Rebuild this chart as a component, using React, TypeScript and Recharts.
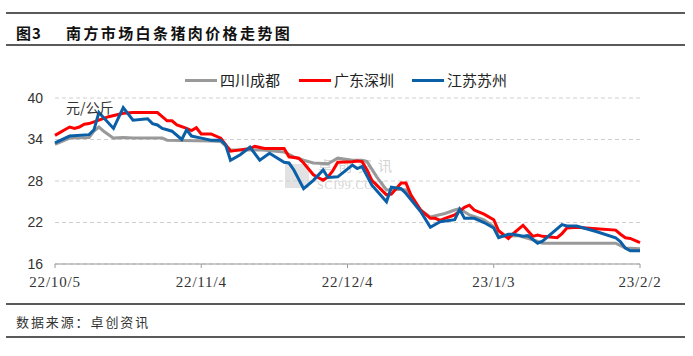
import { LineChart, Line, XAxis, YAxis, CartesianGrid } from 'recharts';

// x axis: days since 2022/10/5
const tickDays = [0, 30, 60, 90, 120];
const dateLabels = ['22/10/5', '22/11/4', '22/12/4', '23/1/3', '23/2/2'];
const priceTicks = [16, 22, 28, 34, 40];

const seriesNames = ['四川成都', '广东深圳', '江苏苏州'];
const seriesColors = ['#999999', '#ff0000', '#0b5fa7'];

// 四川成都
const chengduDays = [0, 3, 7, 8, 9, 10, 12, 14, 16, 22, 23, 32, 34, 36, 42, 47, 49, 51, 53, 56, 58, 61, 63, 64, 66, 68, 70, 72, 75, 77, 80, 82, 83, 85, 88, 90, 91, 95, 98, 100, 115, 117, 120];
const chengduPrices = [33.3, 34.2, 34.3, 35.2, 35.8, 35.2, 34.2, 34.3, 34.2, 34.2, 33.9, 33.8, 33.7, 32.5, 32.5, 32.2, 31.5, 31.0, 30.6, 30.5, 31.3, 31.0, 31.0, 30.8, 28.6, 26.7, 26.8, 26.7, 23.8, 22.8, 23.3, 23.8, 24.0, 23.1, 22.4, 21.4, 20.0, 20.1, 19.5, 19.0, 19.0, 18.3, 18.2];

// 广东深圳
const shenzhenDays = [0, 2, 3, 4, 5, 6, 7, 9, 11, 14, 16, 21, 22, 23, 24, 25, 27, 28, 29, 30, 32, 34, 36, 38, 40, 41, 43, 47, 48, 50, 51, 53, 55, 56, 57, 58, 61, 62, 63, 64, 65, 68, 69, 71, 72, 73, 75, 77, 78, 79, 80, 82, 84, 85, 86, 88, 90, 91, 93, 94, 96, 98, 99, 100, 103, 104, 105, 107, 111, 115, 116, 117, 118, 120];
const shenzhenPrices = [34.6, 35.4, 35.8, 35.6, 35.8, 36.2, 36.3, 36.8, 37.3, 37.8, 37.9, 37.9, 37.3, 36.7, 36.7, 36.1, 35.6, 35.3, 35.7, 34.8, 34.8, 34.2, 32.3, 32.5, 32.7, 33.0, 32.7, 32.7, 31.5, 31.3, 30.6, 28.9, 28.1, 28.6, 29.5, 30.7, 30.8, 30.9, 30.8, 29.6, 28.1, 26.0, 26.1, 27.7, 27.7, 26.0, 23.8, 22.6, 22.6, 22.3, 22.6, 23.1, 24.2, 24.5, 23.8, 23.2, 22.4, 20.8, 19.7, 20.4, 21.6, 20.0, 20.2, 20.0, 19.8, 20.4, 21.2, 21.3, 21.1, 20.9, 20.3, 19.8, 19.7, 19.1];

// 江苏苏州
const suzhouDays = [0, 3, 7, 8, 9, 12, 14, 16, 19, 20, 21, 22, 23, 24, 26, 27, 28, 30, 32, 34, 35, 36, 38, 40, 42, 44, 47, 48, 49, 51, 53, 55, 56, 58, 61, 62, 63, 65, 68, 69, 71, 72, 75, 77, 79, 82, 83, 84, 86, 88, 90, 91, 93, 94, 96, 97, 99, 100, 104, 105, 107, 111, 115, 116, 117, 118, 120];
const suzhouPrices = [33.5, 34.5, 34.7, 35.4, 37.9, 35.6, 38.6, 36.8, 37.0, 36.3, 36.1, 35.6, 35.4, 35.2, 34.0, 35.4, 34.5, 34.2, 33.9, 33.9, 33.2, 31.0, 31.8, 32.9, 31.0, 32.0, 30.7, 30.6, 29.6, 26.9, 28.1, 29.6, 28.5, 28.6, 30.3, 29.8, 30.1, 27.4, 25.0, 27.1, 26.9, 26.2, 23.6, 21.3, 22.1, 22.4, 23.9, 22.6, 22.6, 22.0, 21.2, 19.8, 20.3, 20.3, 20.0, 20.1, 19.0, 19.3, 21.7, 21.5, 21.5, 20.7, 19.8, 19.2, 18.3, 17.9, 17.9];

const toPoints = (days: number[], prices: number[]) =>
  days.map((day, i) => ({ day, price: prices[i] }));

const series = [
  toPoints(chengduDays, chengduPrices),
  toPoints(shenzhenDays, shenzhenPrices),
  toPoints(suzhouDays, suzhouPrices),
];

const cjk = '"Noto Sans CJK SC", "Noto Sans", sans-serif';

const rule = (top: number) => (
  <div style={{ position: 'absolute', left: 6, width: 679, top, height: 2, background: '#5a5a5a' }} />
);

const legendLeft = [185, 299, 412];

const App = () => {
  return (
    <div style={{ position: 'relative', width: 693, height: 356, background: '#fff', overflow: 'hidden' }}>
      <style>{'body{margin:0}'}</style>

      {rule(12)}
      <div style={{ position: 'absolute', left: 16, top: 22, lineHeight: '22px', fontFamily: cjk, fontSize: 15, fontWeight: 'bold', color: '#111', letterSpacing: 1 }}>
        图3
      </div>
      <div style={{ position: 'absolute', left: 66, top: 22, lineHeight: '22px', fontFamily: cjk, fontSize: 15, fontWeight: 'bold', color: '#111', letterSpacing: 2.4 }}>
        南方市场白条猪肉价格走势图
      </div>
      {rule(44)}

      {/* watermark */}
      <div style={{ position: 'absolute', left: 285, top: 164, width: 24, height: 24, background: '#e2e2e2' }} />
      <div style={{ position: 'absolute', left: 318, top: 157, lineHeight: '16px', fontFamily: cjk, fontSize: 14, color: '#d4d4d4', letterSpacing: 6 }}>
        卓创资讯
      </div>
      <div style={{ position: 'absolute', left: 317, top: 179, lineHeight: '13px', fontFamily: '"Liberation Serif", serif', fontSize: 12, color: '#d4d4d4', letterSpacing: 0.8 }}>
        SCI99.COM
      </div>

      <LineChart
        width={693}
        height={356}
        margin={{ top: 98, right: 53, bottom: 62, left: 10 }}
        style={{ position: 'absolute', left: 0, top: 0 }}
      >
        <CartesianGrid vertical={false} stroke="#d0d0d0" strokeDasharray="4 3" />
        <XAxis
          dataKey="day"
          type="number"
          domain={[0, 120]}
          ticks={tickDays}
          interval={0}
          tickFormatter={(d: number) => dateLabels[tickDays.indexOf(d)]}
          axisLine={{ stroke: '#999' }}
          tickLine={{ stroke: '#999' }}
          tickSize={4}
          tickMargin={8}
          height={30}
          tick={{ fill: '#333', fontSize: 15, fontFamily: '"Liberation Serif", serif', letterSpacing: 0.8 }}
        />
        <YAxis
          type="number"
          domain={[16, 40]}
          ticks={priceTicks}
          interval={0}
          axisLine={false}
          tickLine={false}
          tickMargin={6}
          width={45}
          tick={{ fill: '#333', fontSize: 14, fontFamily: '"Liberation Sans", Arial, sans-serif' }}
        />
        {series.map((points, i) => (
          <Line
            key={seriesNames[i]}
            data={points}
            dataKey="price"
            name={seriesNames[i]}
            type="linear"
            stroke={seriesColors[i]}
            strokeWidth={3}
            dot={false}
            activeDot={false}
            isAnimationActive={false}
          />
        ))}
      </LineChart>

      {/* legend */}
      {seriesNames.map((name, i) => (
        <div key={name} style={{ position: 'absolute', left: legendLeft[i], top: 70, height: 20, display: 'flex', alignItems: 'center' }}>
          <div style={{ width: 32, height: 3, background: seriesColors[i] }} />
          <span style={{ marginLeft: 3, fontFamily: cjk, fontSize: 15, color: '#222', lineHeight: '20px' }}>{name}</span>
        </div>
      ))}

      <div style={{ position: 'absolute', left: 66, top: 98, lineHeight: '18px', fontFamily: cjk, fontSize: 14, color: '#333' }}>
        元/公斤
      </div>

      {rule(303)}
      <div style={{ position: 'absolute', left: 16, top: 312, lineHeight: '20px', fontFamily: cjk, fontSize: 13, color: '#333', letterSpacing: 1.9 }}>
        数据来源：卓创资讯
      </div>
      {rule(336)}
    </div>
  );
};

export default App;
